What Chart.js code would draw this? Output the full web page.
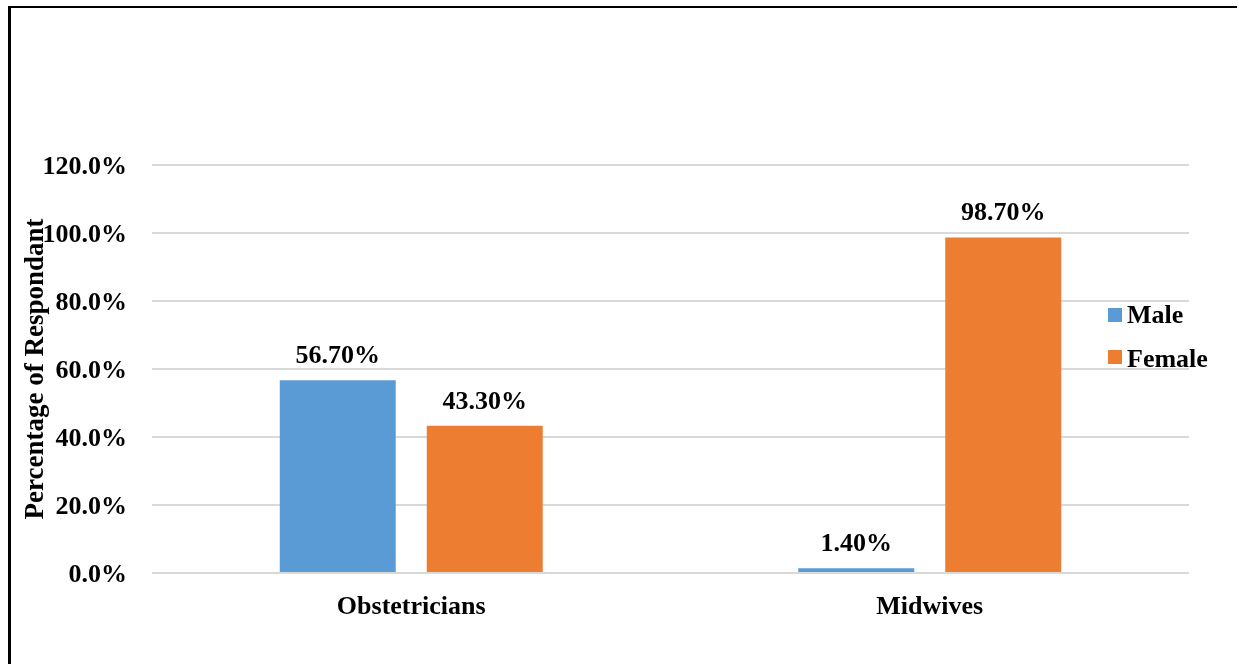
<!DOCTYPE html>
<html>
<head>
<meta charset="utf-8">
<script src="https://cdn.jsdelivr.net/npm/chart.js@4"></script>
<style>
  body { margin: 0; background: #fff; }
  #wrap { position: relative; width: 1239px; height: 664px; }
  #frame { position: absolute; left: 8px; top: 6px; right: 2px; bottom: -4px;
           border-left: 3px solid #000; border-top: 2px solid #000; pointer-events: none; }
</style>
</head>
<body>
<div id="wrap">
  <canvas id="myChart" width="1239" height="664"></canvas>
  <div id="frame"></div>
</div>
<script>
const categories = ['Obstetricians', 'Midwives'];
const male = [56.7, 1.4];
const female = [43.3, 98.7];
const seriesNames = ['Male', 'Female'];
const yTitle = 'Percentage of Respondant';

const FONT = '"Liberation Serif", "Times New Roman", serif';

const barLabels = {
    id: 'barLabels',
    afterDatasetsDraw(chart) {
        const ctx = chart.ctx;
        ctx.save();
        ctx.font = 'bold 26px ' + FONT;
        ctx.fillStyle = '#000';
        ctx.textAlign = 'center';
        ctx.textBaseline = 'alphabetic';
        chart.data.datasets.forEach((ds, i) => {
            chart.getDatasetMeta(i).data.forEach((bar, j) => {
                ctx.fillText(ds.data[j].toFixed(2) + '%', bar.x, bar.y - 17);
            });
        });
        ctx.restore();
    }
};

// legend sits over the right end of the plot, like the original
const sideLegend = {
    id: 'sideLegend',
    afterDraw(chart) {
        const ctx = chart.ctx;
        ctx.save();
        ctx.font = 'bold 26px ' + FONT;
        ctx.textBaseline = 'alphabetic';
        ctx.textAlign = 'left';
        chart.data.datasets.forEach((ds, i) => {
            const top = 308 + i * 42;
            ctx.fillStyle = ds.backgroundColor;
            ctx.fillRect(1108, top, 14, 14);
            ctx.fillStyle = '#000';
            ctx.fillText(ds.label, 1127, top + 15 + i * 2);
        });
        ctx.restore();
    }
};

const ctx = document.getElementById('myChart');
new Chart(ctx, {
    type: 'bar',
    data: {
        labels: categories,
        datasets: [
            { label: seriesNames[0], data: male, backgroundColor: '#5B9BD5' },
            { label: seriesNames[1], data: female, backgroundColor: '#ED7D31' }
        ]
    },
    options: {
        responsive: false,
        animation: false,
        layout: { padding: { left: 20, right: 50, top: 165, bottom: 0 } },
        datasets: { bar: { barPercentage: 0.789, categoryPercentage: 0.567 } },
        plugins: {
            legend: { display: false },
            tooltip: { enabled: false }
        },
        scales: {
            x: {
                grid: { display: false },
                border: { display: false },
                ticks: {
                    color: '#000',
                    padding: 11,
                    font: { family: FONT, size: 26, weight: 'bold' }
                },
                afterFit(scale) { scale.height = 91; }
            },
            y: {
                min: 0,
                max: 120,
                grid: { color: '#d9d9d9', lineWidth: 2, drawTicks: false },
                border: { display: false },
                ticks: {
                    stepSize: 20,
                    color: '#000',
                    padding: 25,
                    labelOffset: 2,
                    font: { family: FONT, size: 26, weight: 'bold' },
                    callback: v => v.toFixed(1) + '%'
                },
                title: {
                    display: true,
                    text: yTitle,
                    color: '#000',
                    padding: 0,
                    font: { family: FONT, size: 27, weight: 'bold' }
                },
                afterFit(scale) { scale.width = 132; }
            }
        }
    },
    plugins: [barLabels, sideLegend]
});
</script>
</body>
</html>
